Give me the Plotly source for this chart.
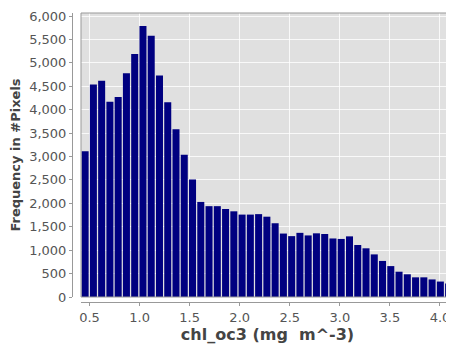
import plotly.graph_objects as go

# Histogram data
bin_start = 0.415
bin_width = 0.0825
counts = [3110, 4540, 4620, 4170, 4270, 4780, 5190, 5790, 5580, 4730,
          4160, 3580, 3040, 2510, 2030, 1940, 1940, 1880, 1830, 1760,
          1760, 1770, 1715, 1575, 1355, 1300, 1370, 1315, 1360, 1345,
          1250, 1240, 1295, 1110, 1040, 910, 770, 660, 540, 485,
          420, 420, 375, 330, 290]
x_ticks = [0.5, 1.0, 1.5, 2.0, 2.5, 3.0, 3.5, 4.0]
x_tick_labels = ["0.5", "1.0", "1.5", "2.0", "2.5", "3.0", "3.5", "4.0"]
y_ticks = list(range(0, 6001, 500))
y_tick_labels = [f"{v:,}" for v in y_ticks]

centers = [bin_start + (i + 0.5) * bin_width for i in range(len(counts))]

# The page body has an 8px margin, so the figure is drawn 8px smaller and
# all target coordinates are expressed relative to the figure's own corner.
W, H = 446, 343
ml, mr, mt, mb = 52, 0, 5, 32
pw = W - ml - mr
ph = H - mt - mb

plot_left = 73
y_axis_x = 64
plot_bottom = 289
x_axis_y = 294

xdom0 = (plot_left - ml) / pw
ypos = (y_axis_x - ml) / pw
ydom0 = (H - mb - plot_bottom) / ph
xpos = (H - mb - x_axis_y) / ph

font = "DejaVu Sans"
tick_color = "#555555"

fig = go.Figure()
fig.add_trace(go.Bar(
    x=centers, y=counts, width=bin_width * 0.85,
    marker=dict(color="#000080", line=dict(width=0)),
))

fig.update_layout(
    width=W, height=H,
    margin=dict(l=ml, r=mr, t=mt, b=mb),
    paper_bgcolor="white",
    plot_bgcolor="#e0e0e0",
    showlegend=False,
    font=dict(family=font, size=13, color=tick_color),
    xaxis=dict(
        domain=[xdom0, 1], anchor="free", position=xpos, automargin=False,
        range=[bin_start, 4.14],
        tickvals=x_ticks, ticktext=x_tick_labels,
        showgrid=True, gridcolor="rgba(255,255,255,0.8)", gridwidth=1,
        zeroline=False,
        showline=True, linecolor="#999999", linewidth=1,
        ticks="outside", ticklen=3, tickcolor="#999999",
        tickfont=dict(family=font, size=13, color=tick_color),
        title=dict(text="chl_oc3 (mg\u00a0 m^-3)",
                   font=dict(family=font, size=16, color="#444444", weight="bold"),
                   standoff=3),
    ),
    yaxis=dict(
        domain=[ydom0, 1], anchor="free", position=ypos, automargin=False,
        range=[0, 6065],
        tickvals=y_ticks, ticktext=y_tick_labels,
        showgrid=True, gridcolor="rgba(255,255,255,0.8)", gridwidth=1,
        zeroline=False,
        showline=True, linecolor="#999999", linewidth=1,
        ticks="outside", ticklen=3, tickcolor="#999999",
        tickfont=dict(family=font, size=13, color=tick_color),
        title=dict(text="Frequency in #Pixels",
                   font=dict(family=font, size=13, color="#444444", weight="bold"),
                   standoff=6),
    ),
    shapes=[dict(type="rect", xref="x domain", yref="y domain",
                 x0=0, x1=1, y0=0, y1=1,
                 line=dict(color="#999999", width=1), layer="above")],
)

fig.write_html("out.html")
